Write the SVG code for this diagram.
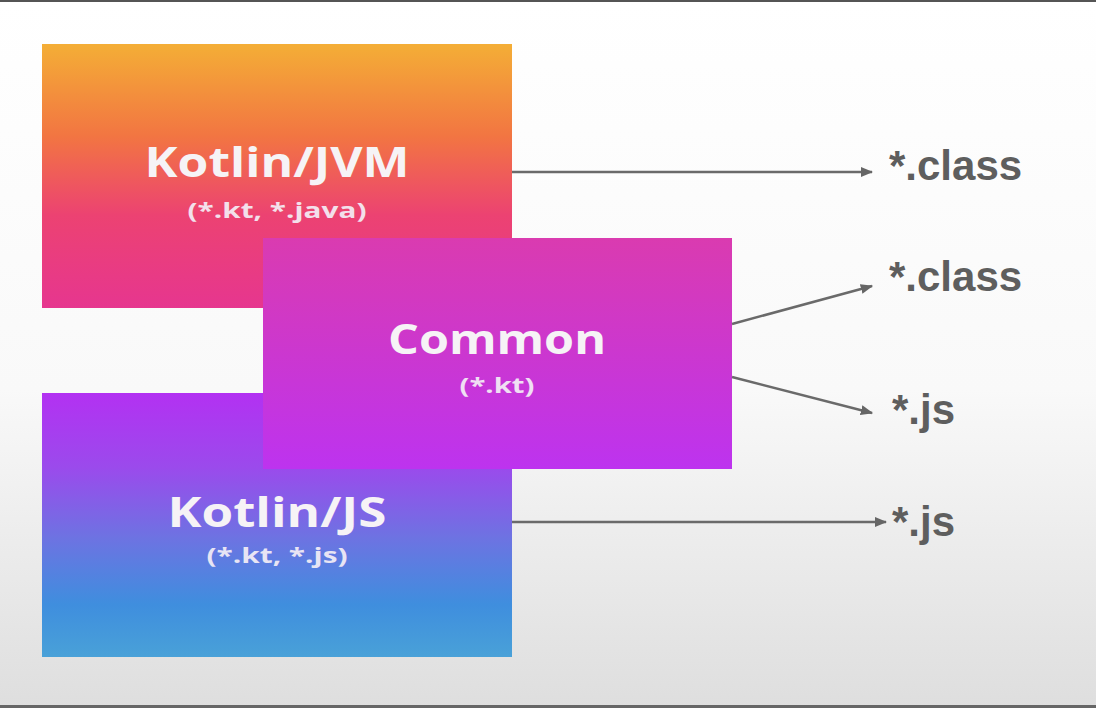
<svg xmlns="http://www.w3.org/2000/svg" width="1096" height="708" viewBox="0 0 1096 708">
  <defs>
    <linearGradient id="bg" x1="0" y1="0" x2="0" y2="1">
      <stop offset="0" stop-color="#ffffff"/>
      <stop offset="0.55" stop-color="#f9f9f9"/>
      <stop offset="1" stop-color="#dedede"/>
    </linearGradient>
    <linearGradient id="gJvm" x1="0" y1="0" x2="0" y2="1">
      <stop offset="0" stop-color="#f4ae36"/>
      <stop offset="0.35" stop-color="#f27542"/>
      <stop offset="0.65" stop-color="#ec4272"/>
      <stop offset="1" stop-color="#e6368f"/>
    </linearGradient>
    <linearGradient id="gJs" x1="0" y1="0" x2="0" y2="1">
      <stop offset="0" stop-color="#b331f2"/>
      <stop offset="0.28" stop-color="#9b4aec"/>
      <stop offset="0.55" stop-color="#6d73e2"/>
      <stop offset="0.8" stop-color="#3f8ede"/>
      <stop offset="1" stop-color="#49a1d8"/>
    </linearGradient>
    <linearGradient id="gCommon" x1="0" y1="0" x2="0" y2="1">
      <stop offset="0" stop-color="#da3bb0"/>
      <stop offset="1" stop-color="#bd33ef"/>
    </linearGradient>
    <marker id="arrow" viewBox="0 0 10 10" refX="9" refY="5" markerWidth="5" markerHeight="5" orient="auto" markerUnits="strokeWidth">
      <path d="M0,1 L10,5 L0,9 z" fill="#666666"/>
    </marker>
    <style>
      .title { font-family: "Open Sans", "Liberation Sans", sans-serif; font-weight: bold; font-size: 42px; fill: #f6f3f6; text-anchor: middle; }
      .sub { font-family: "Open Sans", "Liberation Sans", sans-serif; font-weight: bold; font-size: 22px; fill: #f4eef6; text-anchor: middle; opacity: 0.92; }
      .out { font-family: "Liberation Sans", Arial, sans-serif; font-weight: bold; font-size: 42px; fill: #5e5e5e; }
      .conn { stroke: #6a6a6a; stroke-width: 2.5; fill: none; marker-end: url(#arrow); }
    </style>
  </defs>

  <rect x="0" y="0" width="1096" height="708" fill="url(#bg)"/>
  <rect x="0" y="0" width="1096" height="2" fill="#555555"/>
  <rect x="0" y="705" width="1096" height="3" fill="#666666"/>

  <g id="kotlin-jvm">
    <rect x="42" y="44" width="470" height="264" fill="url(#gJvm)"/>
    <text class="title" x="277" y="177" textLength="265" lengthAdjust="spacingAndGlyphs">Kotlin/JVM</text>
    <text class="sub" x="277" y="218" textLength="179" lengthAdjust="spacingAndGlyphs">(*.kt, *.java)</text>
  </g>

  <g id="kotlin-js">
    <rect x="42" y="393" width="470" height="264" fill="url(#gJs)"/>
    <text class="title" x="277" y="527" textLength="219" lengthAdjust="spacingAndGlyphs">Kotlin/JS</text>
    <text class="sub" x="277" y="563" textLength="141" lengthAdjust="spacingAndGlyphs">(*.kt, *.js)</text>
  </g>

  <g id="common">
    <rect x="263" y="238" width="469" height="231" fill="url(#gCommon)"/>
    <text class="title" x="497" y="354" textLength="218" lengthAdjust="spacingAndGlyphs">Common</text>
    <text class="sub" x="497" y="393" textLength="75" lengthAdjust="spacingAndGlyphs">(*.kt)</text>
  </g>

  <g id="connectors">
    <line class="conn" x1="512" y1="172" x2="872" y2="172"/>
    <line class="conn" x1="732" y1="324" x2="872" y2="286"/>
    <line class="conn" x1="732" y1="377" x2="872" y2="413"/>
    <line class="conn" x1="512" y1="522" x2="886" y2="522"/>
  </g>

  <g id="outputs">
    <text class="out" x="889" y="180">*.class</text>
    <text class="out" x="889" y="291">*.class</text>
    <text class="out" x="892" y="424">*.js</text>
    <text class="out" x="892" y="536">*.js</text>
  </g>
</svg>
